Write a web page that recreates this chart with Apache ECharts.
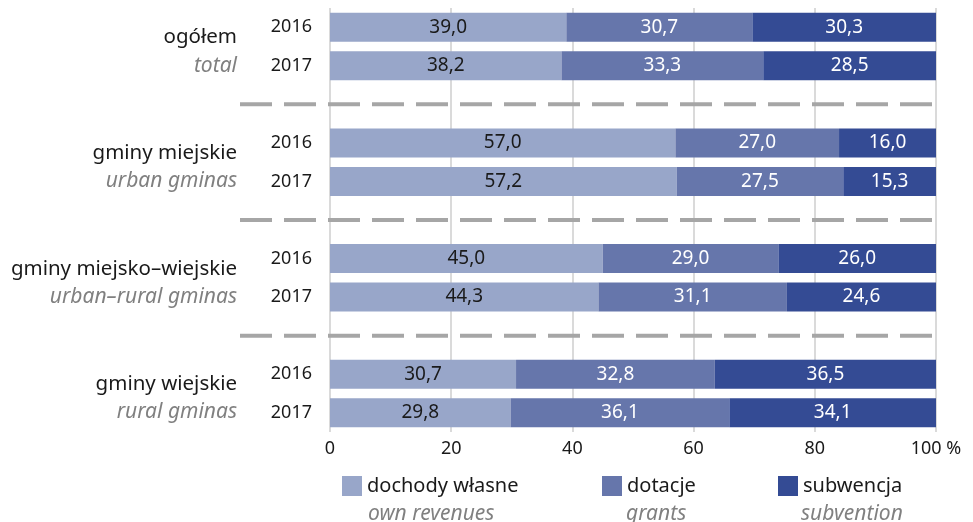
<!DOCTYPE html>
<html>
<head>
<meta charset="utf-8">
<script src="https://cdn.jsdelivr.net/npm/echarts@6/dist/echarts.min.js"></script>
<style>
  html, body { margin: 0; padding: 0; background: #fff; }
  #chart { width: 973px; height: 522px; }
</style>
</head>
<body>
<div id="chart"></div>
<script>
// dane
const groupsPl = ['ogółem', 'gminy miejskie', 'gminy miejsko–wiejskie', 'gminy wiejskie']
const groupsEn = ['total', 'urban gminas', 'urban–rural gminas', 'rural gminas']
const years = ['2016', '2017']
const ownRevenues = [39.0, 38.2, 57.0, 57.2, 45.0, 44.3, 30.7, 29.8]
const grants = [30.7, 33.3, 27.0, 27.5, 29.0, 31.1, 32.8, 36.1]
const subvention = [30.3, 28.5, 16.0, 15.3, 26.0, 24.6, 36.5, 34.1]
const xTicks = [0, 20, 40, 60, 80, 100]
const seriesPl = ['dochody własne', 'dotacje', 'subwencja']
const seriesEn = ['own revenues', 'grants', 'subvention']
const colors = ['#98a6c9', '#6676ab', '#344b94']

const FONT = 'Noto Sans'
const TXT = '#1a1a1a'

// wiersze osi: 2 lata na grupę + pusty wiersz między grupami
const rows = []
groupsPl.forEach((g, gi) => {
  years.forEach((y, yi) => rows.push({ key: 'r' + gi + '_' + yi, year: y, idx: gi * years.length + yi }))
  if (gi < groupsPl.length - 1) rows.push({ key: 'gap' + gi, year: '', idx: -1 })
})

function rowData(values) {
  return rows.map(r => (r.idx < 0 ? '-' : values[r.idx]))
}

const fmt = v => Number(v).toFixed(1).replace('.', ',')

const chart = echarts.init(document.getElementById('chart'))

const seriesValues = [ownRevenues, grants, subvention]

chart.setOption({
  animation: false,
  textStyle: { fontFamily: FONT },
  grid: { left: 330, right: 37, top: 8, bottom: 90 },
  xAxis: {
    type: 'value',
    min: xTicks[0],
    max: xTicks[xTicks.length - 1],
    interval: 20,
    axisLine: { show: false },
    axisTick: { show: false },
    splitLine: { lineStyle: { color: '#dadada', width: 2 } },
    axisLabel: {
      fontFamily: FONT,
      fontSize: 18,
      color: TXT,
      margin: 8,
      formatter: v => (v === 100 ? '100 %' : String(v))
    }
  },
  yAxis: {
    type: 'category',
    inverse: true,
    data: rows.map(r => r.key),
    axisLine: { show: false },
    axisTick: { show: false },
    splitLine: { show: false },
    axisLabel: {
      fontFamily: FONT,
      fontSize: 18,
      color: TXT,
      margin: 18,
      formatter: v => rows.find(r => r.key === v).year
    }
  },
  legend: seriesPl.map((name, i) => ({
    data: [name],
    left: [342, 602, 778][i],
    top: 476,
    padding: 0,
    itemWidth: 20,
    itemHeight: 20,
    icon: 'rect',
    textStyle: { fontFamily: FONT, fontSize: 20, color: TXT },
    selectedMode: false
  })),
  series: seriesPl.map((name, i) => ({
    name: name,
    type: 'bar',
    stack: 'total',
    barWidth: 29,
    itemStyle: { color: colors[i] },
    label: {
      show: true,
      position: 'inside',
      fontFamily: FONT,
      fontSize: 19,
      color: i === 0 ? TXT : '#fff',
      formatter: p => fmt(p.value)
    },
    data: rowData(seriesValues[i])
  }))
})

// etykiety grup, linie przerywane i podpisy legendy po angielsku
function drawExtras() {
  const elements = []
  const xRight = chart.convertToPixel({ xAxisIndex: 0 }, xTicks[xTicks.length - 1])
  groupsPl.forEach((g, gi) => {
    const y1 = chart.convertToPixel({ yAxisIndex: 0 }, 'r' + gi + '_0')
    const y2 = chart.convertToPixel({ yAxisIndex: 0 }, 'r' + gi + '_1')
    const cy = (y1 + y2) / 2
    elements.push({
      type: 'text', x: 237, y: cy - 9,
      style: { text: g, fontFamily: FONT, fontSize: 20.5, fill: TXT, align: 'right', verticalAlign: 'middle' }
    })
    elements.push({
      type: 'text', x: 237, y: cy + 19,
      style: { text: groupsEn[gi], fontFamily: FONT, fontStyle: 'italic', fontSize: 21, fill: '#808080', align: 'right', verticalAlign: 'middle' }
    })
    if (gi < groupsPl.length - 1) {
      const gy = chart.convertToPixel({ yAxisIndex: 0 }, 'gap' + gi)
      elements.push({
        type: 'line',
        shape: { x1: 240, y1: gy, x2: xRight, y2: gy },
        style: { stroke: '#a6a6a6', lineWidth: 4, lineDash: [32, 12] }
      })
    }
  })
  seriesEn.forEach((t, i) => {
    elements.push({
      type: 'text', x: [368, 626, 801][i], y: 514,
      style: { text: t, fontFamily: FONT, fontStyle: 'italic', fontSize: 21, fill: '#808080', verticalAlign: 'middle' }
    })
  })
  chart.setOption({ graphic: elements })
}
drawExtras()
</script>
</body>
</html>
